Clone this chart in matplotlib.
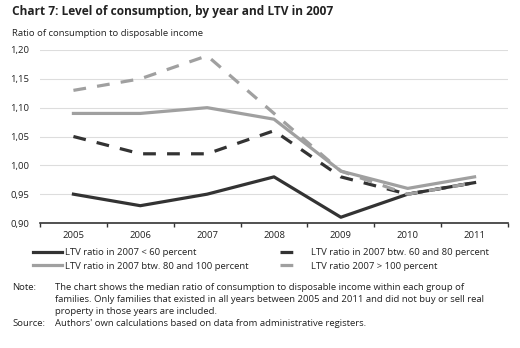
import matplotlib
matplotlib.use("Agg")
import matplotlib.pyplot as plt

plt.rcParams['font.family'] = ['Open Sans', 'DejaVu Sans']

years = ['2005', '2006', '2007', '2008', '2009', '2010', '2011']
ltv_below_60 = [0.95, 0.93, 0.95, 0.98, 0.91, 0.95, 0.97]
ltv_60_80 = [1.05, 1.02, 1.02, 1.06, 0.98, 0.95, 0.97]
ltv_80_100 = [1.09, 1.09, 1.10, 1.08, 0.99, 0.96, 0.98]
ltv_above_100 = [1.13, 1.15, 1.19, 1.09, 0.99, 0.95, 0.97]
yticks = [0.90, 0.95, 1.00, 1.05, 1.10, 1.15, 1.20]
labels = ['LTV ratio in 2007 < 60 percent',
          'LTV ratio in 2007 btw. 60 and 80 percent',
          'LTV ratio in 2007 btw. 80 and 100 percent',
          'LTV ratio 2007 > 100 percent']

dark = '#333333'
light = '#a0a0a0'
text_col = '#222222'
fs = 6.8

fig = plt.figure(figsize=(5.2, 3.48), dpi=100)
ax = fig.add_axes([40/520, 1-223/348, 468/520, 173/348])

x = list(range(len(years)))
lw = 2.3
l1, = ax.plot(x, ltv_below_60, color=dark, lw=lw)
l2, = ax.plot(x, ltv_60_80, color=dark, lw=lw, dashes=(4, 3.5))
l3, = ax.plot(x, ltv_80_100, color=light, lw=lw)
l4, = ax.plot(x, ltv_above_100, color=light, lw=lw, dashes=(4, 3.5))

ax.set_xlim(-0.5, len(years) - 0.5)
ax.set_ylim(0.90, 1.20)
ax.set_yticks(yticks)
ax.set_yticklabels([f'{v:.2f}'.replace('.', ',') for v in yticks], fontsize=fs, color=text_col)
ax.set_xticks(x)
ax.set_xticklabels(years, fontsize=fs, color=text_col)
ax.tick_params(axis='x', length=0, pad=6)
ax.set_xticks([i - 0.5 for i in range(len(years) + 1)], minor=True)
ax.tick_params(axis='x', which='minor', length=3, direction='out', color=dark, width=1)
ax.tick_params(axis='y', length=0, pad=8)
ax.grid(axis='y', color='#dddddd', lw=0.8)
ax.set_axisbelow(True)
for s in ['top', 'right', 'left']:
    ax.spines[s].set_visible(False)
ax.spines['bottom'].set_color(dark)
ax.spines['bottom'].set_linewidth(1.2)

fig.text(12/520, 1-12/348, 'Chart 7: Level of consumption, by year and LTV in 2007',
         fontsize=8.6, fontweight='bold', color=text_col, va='center', ha='left')
fig.text(12/520, 1-34/348, 'Ratio of consumption to disposable income',
         fontsize=fs, color=text_col, va='center', ha='left')

leg_kw = dict(loc='upper left', frameon=False, fontsize=fs, labelspacing=0.5,
              borderpad=0, borderaxespad=0, labelcolor=text_col)
leg1 = fig.legend([l1, l3], [labels[0], labels[2]], bbox_to_anchor=(33/520, 1-248/348),
                  handlelength=3.1, handletextpad=0.3, **leg_kw)
leg2 = fig.legend([l2, l4], [labels[1], labels[3]], bbox_to_anchor=(280/520, 1-248/348),
                  handlelength=2.4, handletextpad=0.9, **leg_kw)

notes_y = [288, 300, 312]
note_lines = ['The chart shows the median ratio of consumption to disposable income within each group of',
              'families. Only families that existed in all years between 2005 and 2011 and did not buy or sell real',
              'property in those years are included.']
fig.text(12/520, 1-288/348, 'Note:', fontsize=fs, color=text_col, va='center')
for yy, t in zip(notes_y, note_lines):
    fig.text(55/520, 1-yy/348, t, fontsize=fs, color=text_col, va='center')
fig.text(12/520, 1-324/348, 'Source:', fontsize=fs, color=text_col, va='center')
fig.text(55/520, 1-324/348, "Authors' own calculations based on data from administrative registers.",
         fontsize=fs, color=text_col, va='center')

fig.savefig('out.png', dpi=100)
